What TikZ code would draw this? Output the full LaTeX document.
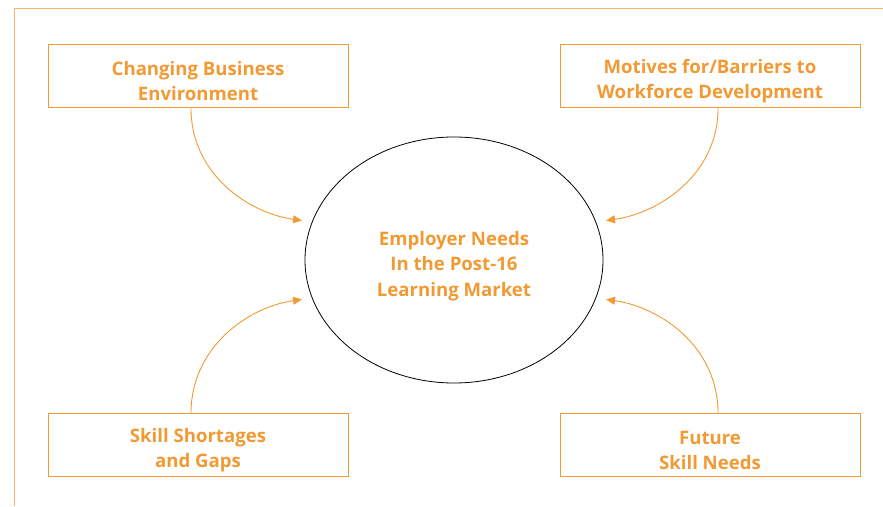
\documentclass[tikz,border=0pt]{standalone}
\usepackage{fontspec}
\setmainfont{Open Sans}
\usetikzlibrary{arrows.meta,shapes.geometric,positioning}
\definecolor{lsorange}{RGB}{241,154,52}
\definecolor{lsframe}{RGB}{246,180,110}
\newcommand{\lnstrut}{\rule{0pt}{23.5pt}}

\begin{document}
\begin{tikzpicture}[x=1pt,y=1pt,
    factor/.style={draw=lsorange,line width=1pt,minimum width=300pt,minimum height=63pt,
      align=center,text=lsorange,font=\fontsize{18.6}{25}\selectfont\bfseries},
    core/.style={draw=black,line width=0.8pt,ellipse,minimum width=298pt,minimum height=246pt,
      inner sep=0pt,align=center,text=lsorange,font=\fontsize{18.6}{25.5}\selectfont\bfseries},
    feed/.style={draw=lsorange,line width=0.9pt,-{Triangle[length=9pt,width=8pt]},shorten >=10pt}]
  \useasboundingbox (0,0) rectangle (883,506);
  % open frame
  \draw[lsframe,line width=0.8pt] (883,498) -- (14,498) -- (14,0);

  \node[core] (needs) at (454,246) {\rule{0pt}{26pt}Employer Needs\\In the Post-16\\Learning Market};

  \node[factor] (change) at (198,429.5) {\lnstrut Changing Business\\Environment};
  \node[factor] (motive) at (710,429.5) {\lnstrut Motives for/Barriers to\\Workforce Development};
  \node[factor] (short) at (198,61) {\lnstrut Skill Shortages\\and Gaps};
  \node[factor] (future) at (710,61) {\lnstrut Future\\Skill Needs};

  \draw[feed] ([xshift=-7pt]change.south) to[out=-90,in=172] (needs.165);
  \draw[feed] ([xshift=8pt]motive.south) to[out=-90,in=8] (needs.15);
  \draw[feed] ([xshift=-7pt]short.north) to[out=90,in=188] (needs.195);
  \draw[feed] ([xshift=8pt]future.north) to[out=90,in=-8] (needs.-15);
\end{tikzpicture}
\end{document}
